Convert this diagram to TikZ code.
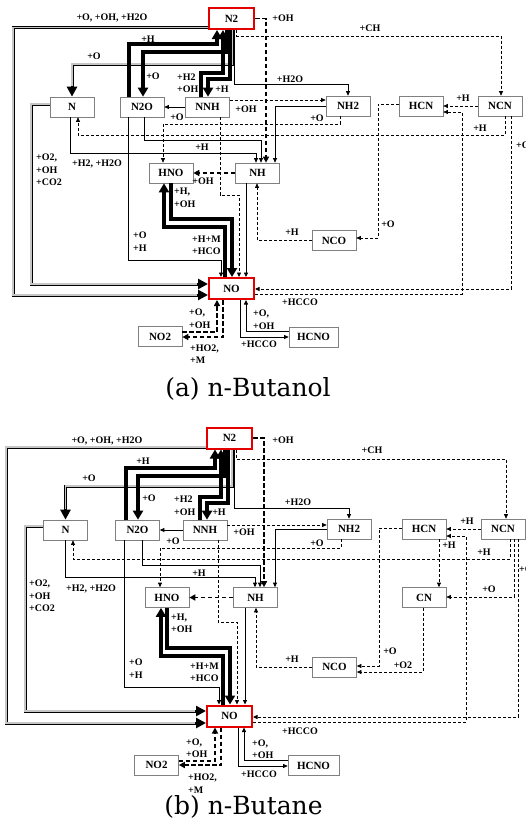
\documentclass[tikz,border=0pt]{standalone}
\usepackage{fontspec}
\newfontfamily\tnr{Liberation Serif}
\newfontfamily\capf{DejaVu Serif}
\usetikzlibrary{arrows.meta}
\newcommand\trip[1]{\draw[trpA] #1; \draw[trpB] #1;}
\begin{document}
\begin{tikzpicture}[x=1pt,y=-1pt,
 bx/.style={draw=black!50, line width=0.7pt, fill=white, minimum width=44pt, minimum height=20pt, inner sep=0pt, font=\tnr\bfseries\fontsize{11}{11}\selectfont},
 rbx/.style={bx, draw=red!90!black, line width=2pt, minimum width=45pt, minimum height=21pt},
 lb/.style={font=\tnr\bfseries\fontsize{10}{12.5}\selectfont, inner sep=0pt, align=left},
 thn/.style={line width=0.8pt, -{Triangle[length=4.5pt,width=4pt]}},
 thk/.style={line width=3.4pt, -{Triangle[length=9pt,width=10pt]}},
 dsh/.style={line width=0.7pt, dash pattern=on 3pt off 2pt, -{Triangle[length=4.5pt,width=4pt]}},
 dshk/.style={line width=1.7pt, dash pattern=on 4.5pt off 2.5pt, -{Triangle[length=6pt,width=6pt]}},
 trpA/.style={line width=3pt, -{Triangle[length=10pt,width=10pt]}},
 trpB/.style={line width=1.3pt, draw=gray!45, shorten >=11pt},
 captxt/.style={font=\capf\fontsize{25}{25}\selectfont, inner sep=0pt, anchor=base}
]
\useasboundingbox (0,0) rectangle (525,822);
\fill[white] (0,0) rectangle (525,822);

% ================= panel (a) =================
\node[rbx] (aN2) at (231.5,18.5) {N2};
\node[bx] (aN) at (72,107) {N};
\node[bx] (aN2O) at (142,107) {N2O};
\node[bx] (aNNH) at (207.5,107) {NNH};
\node[bx] (aNH2) at (348,106) {NH2};
\node[bx] (aHCN) at (421,106) {HCN};
\node[bx] (aNCN) at (500,106) {NCN};
\node[bx] (aHNO) at (171,173) {HNO};
\node[bx] (aNH) at (257.5,173) {NH};
\node[bx] (aNCO) at (334,240.5) {NCO};
\node[rbx] (aNO) at (231.5,288.5) {NO};
\node[bx] (aNO2) at (160,336.5) {NO2};
\node[bx, minimum width=49pt] (aHCNO) at (313.5,337) {HCNO};

\trip{(aN2.west |- 0,27.5) -- (13,27.5) -- (13,295) -- (aNO.west |- 0,295)}
\trip{(aN.west |- 0,104) -- (31,104) -- (31,284) -- (aNO.west |- 0,284)}
\trip{(aN2.south -| 232,0) -- (232,64) -- (72,64) -- (aN.north)}

\draw[thn] (aNNH.west) -- (aN2O.east);
\draw[dsh] (aNNH.east |- 0,100) -- (aNH2.west |- 0,100);
\draw[thn] (aN2.south -| 234.5,0) -- (234.5,84) -- (348,84) -- (aNH2.north);
\draw[dsh] (aN2.south -| 236.5,0) -- (236.5,36) -- (501,36) -- (aNCN.north -| 501,0);
\draw[thn] (aNH2.west) -- (275,106) -- (aNH.north -| 275,0);
\draw[dsh] (aNH2.south -| 340,0) -- (340,124) -- (163,124) -- (aHNO.north -| 163,0);
\draw[thn] (aN2O.south -| 144,0) -- (144,140) -- (261,140) -- (aNH.north -| 261,0);
\draw[thn] (aN.south -| 70,0) -- (70,153) -- (256,153) -- (aNH.north -| 256,0);
\draw[dsh] (aNCN.south -| 505,0) -- (505,135) -- (78,135) -- (aN.south -| 78,0);
\draw[dsh] (aNCN.west) -- (aHCN.east);
\draw[dsh] (aNCN.south -| 511,0) -- (511,289) -- (aNO.east |- 0,289);
\draw[dsh] (aNO.east |- 0,294) -- (462,294) -- (462,112) -- (aHCN.east |- 0,112);
\draw[dsh] (aHCN.west |- 0,104) -- (378,104) -- (378,238) -- (aNCO.east |- 0,238);
\draw[dsh] (aNCO.west) -- (257,240.5) -- (aNH.south -| 257,0);
\draw[dsh] (aNNH.south -| 220,0) -- (220,195) -- (239,195) -- (aNO.north -| 239,0);
\draw[thn] (aNH.south -| 246,0) -- (aNO.north -| 246,0);
\draw[thn] (aN2O.south -| 128,0) -- (128,260) -- (221,260) -- (aNO.north -| 221,0);
\draw[dshk] (aN2.east) -- (266,18.5) -- (aNH.north -| 266,0);
\draw[dshk] (aNH.west) -- (aHNO.east);
\draw[dshk] (aNO2.east |- 0,332) -- (217,332) -- (aNO.south -| 217,0);
\draw[dshk] (aNO.south -| 223,0) -- (223,337) -- (aNO2.east |- 0,337);
\draw[thn] (aHCNO.west |- 0,331) -- (246,331) -- (aNO.south -| 246,0);
\draw[thn] (aNO.south -| 240,0) -- (240,337) -- (aHCNO.west |- 0,337);

\draw[thk] (aN2O.north -| 129,0) -- (129,44) -- (217,44) -- (aN2.south -| 217,0);
\draw[thk] (aN2.south -| 227,0) -- (227,52) -- (143,52) -- (aN2O.north -| 143,0);
\draw[thk] (aNNH.north -| 201,0) -- (201,73) -- (223,73) -- (aN2.south -| 223,0);
\draw[thk] (aN2.south -| 230,0) -- (230,79) -- (208,79) -- (aNNH.north -| 208,0);
\draw[thk] (aHNO.south -| 171,0) -- (171,219) -- (232,219) -- (aNO.north -| 232,0);
\draw[thk] (aNO.north -| 225,0) -- (225,227) -- (164,227) -- (aHNO.south -| 164,0);

\node[lb] at (112,18) {+O, +OH, +H2O};
\node[lb, anchor=west] at (36,170) {+O2,\\+OH\\+CO2};
\node[lb] at (94,56) {+O};
\node[lb] at (148,39) {+H};
\node[lb] at (153,76) {+O};
\node[lb, anchor=west] at (177,83) {+H2\\+OH};
\node[lb] at (222,89) {+H};
\node[lb] at (177,117) {+O};
\node[lb] at (246,109) {+OH};
\node[lb] at (290,79) {+H2O};
\node[lb] at (283,18) {+OH};
\node[lb] at (370,28) {+CH};
\node[lb] at (317,118) {+O};
\node[lb] at (202,147) {+H};
\node[lb] at (97,164) {+H2, +H2O};
\node[lb] at (480,128) {+H};
\node[lb] at (463,98) {+H};
\node[lb, anchor=west] at (516,145) {+O};
\node[lb] at (300,302) {+HCCO};
\node[lb] at (388,224) {+O};
\node[lb] at (292,232) {+H};
\node[lb] at (203,181) {+OH};
\node[lb, anchor=west] at (174,198) {+H,\\+OH};
\node[lb, anchor=west] at (192,245.5) {+H+M\\+HCO};
\node[lb, anchor=west] at (133,241.5) {+O\\+H};
\node[lb, anchor=west] at (189,318.5) {+O,\\+OH};
\node[lb, anchor=west] at (190,354) {+HO2,\\+M};
\node[lb, anchor=west] at (253,319.5) {+O,\\+OH};
\node[lb] at (259,344) {+HCCO};

\node[captxt] (capa) at (248,396) {(a) n-Butanol};

% ================= panel (b) =================
\node[rbx] (bN2) at (229.5,438) {N2};
\node[bx] (bN) at (65.5,530) {N};
\node[bx] (bN2O) at (137.5,530) {N2O};
\node[bx] (bNNH) at (205,530) {NNH};
\node[bx] (bNH2) at (349,529) {NH2};
\node[bx] (bHCN) at (424,529) {HCN};
\node[bx] (bNCN) at (503,529) {NCN};
\node[bx] (bHNO) at (167,597.5) {HNO};
\node[bx] (bNH) at (255.5,597.5) {NH};
\node[bx] (bCN) at (424,597.5) {CN};
\node[bx] (bNCO) at (334.5,667) {NCO};
\node[rbx] (bNO) at (229.5,716) {NO};
\node[bx] (bNO2) at (156.5,765) {NO2};
\node[bx, minimum width=51pt] (bHCNO) at (313.5,765.5) {HCNO};

\trip{(bN2.west |- 0,447) -- (6,447) -- (6,723) -- (bNO.west |- 0,723)}
\trip{(bN.west |- 0,526) -- (25,526) -- (25,711) -- (bNO.west |- 0,711)}
\trip{(bN2.south -| 232,0) -- (232,486) -- (65.5,486) -- (bN.north)}

\draw[thn] (bNNH.west) -- (bN2O.east);
\draw[dsh] (bNNH.east |- 0,525) -- (bNH2.west |- 0,525);
\draw[thn] (bN2.south -| 234,0) -- (234,508) -- (349,508) -- (bNH2.north);
\draw[dsh] (bN2.south -| 236,0) -- (236,459) -- (506,459) -- (bNCN.north -| 506,0);
\draw[thn] (bNH2.west) -- (275,529) -- (bNH.north -| 275,0);
\draw[dsh] (bNH2.south -| 341,0) -- (341,548) -- (160,548) -- (bHNO.north -| 160,0);
\draw[thn] (bN2O.south -| 142,0) -- (142,565) -- (260,565) -- (bNH.north -| 260,0);
\draw[thn] (bN.south -| 65,0) -- (65,577) -- (255,577) -- (bNH.north -| 255,0);
\draw[dsh] (bNCN.south -| 510,0) -- (510,559) -- (73,559) -- (bN.south -| 73,0);
\draw[dsh] (bNCN.west) -- (bHCN.east);
\draw[dsh] (bHCN.south -| 439,0) -- (bCN.north -| 439,0);
\draw[dsh] (bNCN.south -| 514,0) -- (514,597) -- (bCN.east |- 0,597);
\draw[dsh] (bNCN.south -| 518,0) -- (518,717) -- (bNO.east |- 0,717);
\draw[dsh] (bNO.east |- 0,722) -- (466,722) -- (466,536) -- (bHCN.east |- 0,536);
\draw[dsh] (bHCN.west |- 0,528) -- (379,528) -- (379,666) -- (bNCO.east |- 0,666);
\draw[dsh] (bCN.south -| 423,0) -- (423,672) -- (bNCO.east |- 0,672);
\draw[dsh] (bNCO.west) -- (256,667) -- (bNH.south -| 256,0);
\draw[dsh] (bNNH.south -| 218,0) -- (218,622) -- (237,622) -- (bNO.north -| 237,0);
\draw[thn] (bNH.south -| 245,0) -- (bNO.north -| 245,0);
\draw[thn] (bN2O.south -| 124,0) -- (124,687) -- (219,687) -- (bNO.north -| 219,0);
\draw[dshk] (bN2.east) -- (264,438) -- (bNH.north -| 264,0);
\draw[dshk] (bNH.west) -- (bHNO.east);
\draw[dshk] (bNO2.east |- 0,761) -- (215,761) -- (bNO.south -| 215,0);
\draw[dshk] (bNO.south -| 221,0) -- (221,765) -- (bNO2.east |- 0,765);
\draw[thn] (bHCNO.west |- 0,760) -- (244,760) -- (bNO.south -| 244,0);
\draw[thn] (bNO.south -| 238,0) -- (238,766) -- (bHCNO.west |- 0,766);

\draw[thk] (bN2O.north -| 126,0) -- (126,468) -- (215,468) -- (bN2.south -| 215,0);
\draw[thk] (bN2.south -| 225,0) -- (225,476) -- (138,476) -- (bN2O.north -| 138,0);
\draw[thk] (bNNH.north -| 200,0) -- (200,497) -- (221,497) -- (bN2.south -| 221,0);
\draw[thk] (bN2.south -| 228,0) -- (228,503) -- (207,503) -- (bNNH.north -| 207,0);
\draw[thk] (bHNO.south -| 167,0) -- (167,648) -- (230,648) -- (bNO.north -| 230,0);
\draw[thk] (bNO.north -| 223,0) -- (223,656) -- (161,656) -- (bHNO.south -| 161,0);

\node[lb] at (107,441) {+O, +OH, +H2O};
\node[lb, anchor=west] at (29,596) {+O2,\\+OH\\+CO2};
\node[lb] at (89,478) {+O};
\node[lb] at (143,461) {+H};
\node[lb] at (149,498) {+O};
\node[lb, anchor=west] at (174,505.5) {+H2\\+OH};
\node[lb] at (219,512) {+H};
\node[lb] at (173,541) {+O};
\node[lb] at (244,532) {+OH};
\node[lb] at (298,502) {+H2O};
\node[lb] at (283,440) {+OH};
\node[lb] at (372,450) {+CH};
\node[lb] at (317,543) {+O};
\node[lb] at (199,573) {+H};
\node[lb] at (91,589) {+H2, +H2O};
\node[lb] at (484,552) {+H};
\node[lb] at (467,521) {+H};
\node[lb] at (449,545) {+H};
\node[lb] at (489,589) {+O};
\node[lb, anchor=west] at (519,569) {+O};
\node[lb] at (300,731) {+HCCO};
\node[lb] at (390,651) {+O};
\node[lb] at (403,665) {+O2};
\node[lb] at (292,659) {+H};
\node[lb, anchor=west] at (171,623.5) {+H,\\+OH};
\node[lb, anchor=west] at (190,672.5) {+H+M\\+HCO};
\node[lb, anchor=west] at (129,668.5) {+O\\+H};
\node[lb, anchor=west] at (186,748) {+O,\\+OH};
\node[lb, anchor=west] at (188,783.5) {+HO2,\\+M};
\node[lb, anchor=west] at (252,749) {+O,\\+OH};
\node[lb] at (259,774) {+HCCO};

\node[captxt] (capb) at (243.5,814.5) {(b) n-Butane};
\end{tikzpicture}
\end{document}
